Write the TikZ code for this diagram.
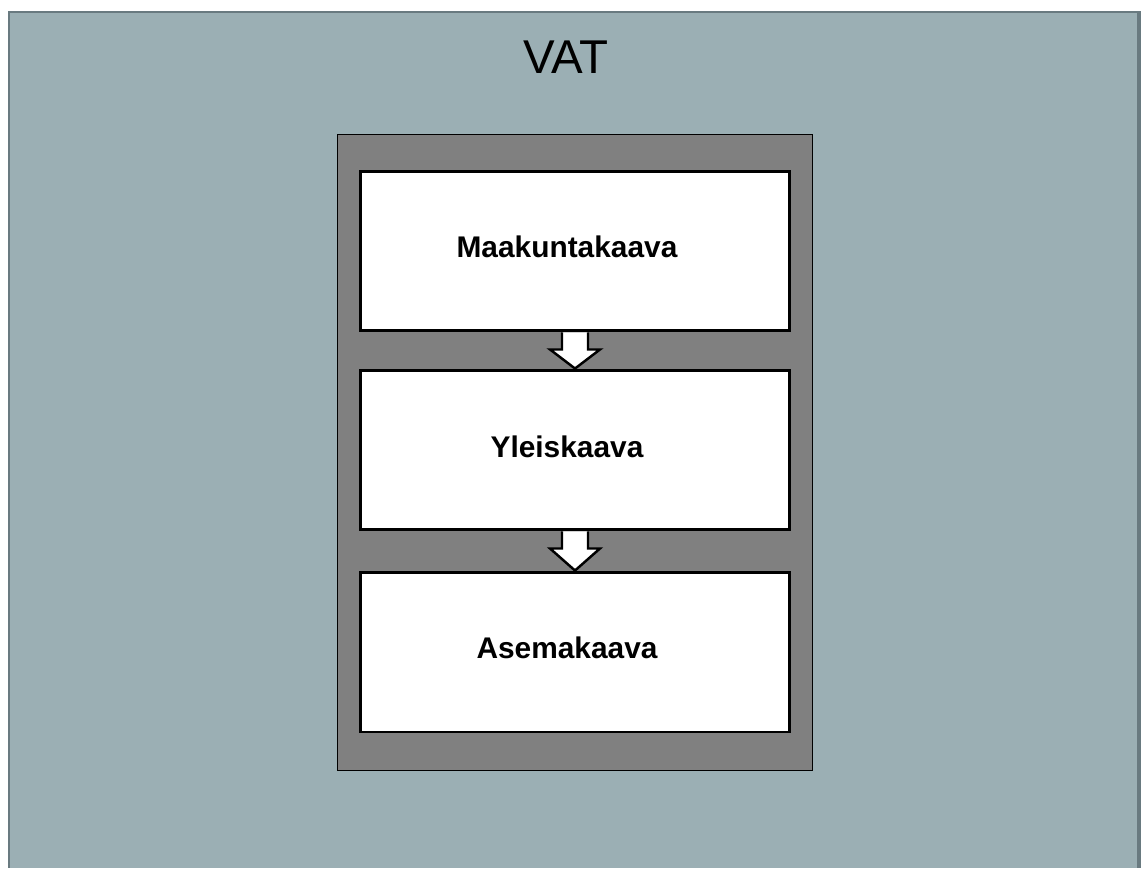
\documentclass[tikz,border=0pt]{standalone}
\usepackage{fontspec}
\setmainfont{Liberation Sans}
\usetikzlibrary{positioning}
\definecolor{vatbg}{RGB}{155,175,180}
\definecolor{vatedge}{RGB}{105,122,128}
\definecolor{panelgray}{RGB}{128,128,128}
\tikzset{
  levelbox/.style={draw=black,line width=1.7pt,fill=white,minimum width=8.6cm,minimum height=3.2cm,inner sep=0pt},
  leveltext/.style={xshift=-0.16cm,yshift=0.08cm,font=\fontsize{17}{20}\selectfont\bfseries},
  downarrow/.style={draw=black,fill=white,line width=1.4pt}
}
\begin{document}
\begin{tikzpicture}[x=0.02cm,y=-0.02cm]
	\useasboundingbox (0,0) rectangle (1141,868);
	\fill [vatedge] (8,11) rectangle (1141,868);
	\fill [vatbg] (10,13) rectangle (1137,868);
	\node (title) at (566,57) {\fontsize{27}{32}\selectfont VAT};
	\draw [fill=panelgray,line width=0.5pt] (337,134) rectangle (812,770);
	\node [levelbox,label={[leveltext]center:Maakuntakaava}] (maak) at (575,251) {};
	\node [levelbox,label={[leveltext,yshift=-0.02cm]center:Yleiskaava}] (yleis) at (575,450) {};
	\node [levelbox,label={[leveltext]center:Asemakaava}] (asema) at (575,652) {};
	% block arrows between the levels
	\foreach \a/\b in {maak/yleis,yleis/asema}
		\draw [downarrow] ([xshift=-13*0.02cm]\a.south) -- ([xshift=-13*0.02cm,yshift=-17*0.02cm]\a.south)
			-- ([xshift=-25*0.02cm,yshift=-17*0.02cm]\a.south) -- (\b.north)
			-- ([xshift=25*0.02cm,yshift=-17*0.02cm]\a.south) -- ([xshift=13*0.02cm,yshift=-17*0.02cm]\a.south)
			-- ([xshift=13*0.02cm]\a.south);
\end{tikzpicture}
\end{document}
